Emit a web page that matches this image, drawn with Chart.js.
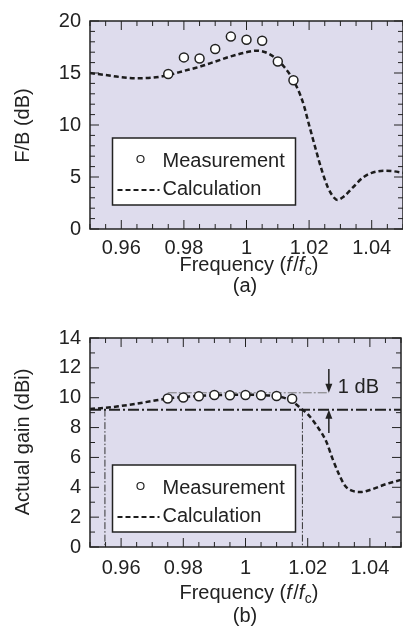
<!DOCTYPE html>
<html>
<head>
<meta charset="utf-8">
<script src="https://cdn.jsdelivr.net/npm/chart.js@4/dist/chart.umd.min.js"></script>
<style>
  html, body { margin: 0; padding: 0; background: #fff; overflow: hidden; width: 403px; height: 627px; }
  .wrap { position: absolute; left: 0; }
  canvas { display: block; }
</style>
</head>
<body>
<div class="wrap" style="top:0"><canvas id="fb" width="410" height="300"></canvas></div>
<div class="wrap" style="top:300px"><canvas id="gain" width="410" height="327"></canvas></div>
<script>
// (a) front-to-back ratio
const measFreq = [0.975, 0.98, 0.985, 0.99, 0.995, 1.0, 1.005, 1.01, 1.015];
const measFB = [14.9, 16.5, 16.4, 17.3, 18.5, 18.2, 18.1, 16.1, 14.3];

const calcFreqA = [0.95, 0.955, 0.96, 0.965, 0.97, 0.975, 0.98, 0.985, 0.99, 0.995, 1.0, 1.003, 1.006, 1.009,
  1.012, 1.015, 1.018, 1.02, 1.022, 1.024, 1.026, 1.028, 1.029, 1.031, 1.034, 1.037, 1.04, 1.044, 1.047, 1.05];
const calcFB = [15.0, 14.8, 14.6, 14.5, 14.55, 14.8, 15.2, 15.6, 16.1, 16.6, 17.0, 17.15, 17.0, 16.5,
  15.6, 14.3, 12.2, 10.0, 7.8, 5.7, 4.0, 3.0, 2.8, 3.1, 4.0, 4.9, 5.4, 5.6, 5.55, 5.4];

// (b) actual gain
const measGain = [9.95, 10.02, 10.09, 10.18, 10.16, 10.18, 10.16, 10.11, 9.93];

const calcFreqB = [0.95, 0.955, 0.96, 0.965, 0.97, 0.975, 0.98, 0.985, 0.99, 0.995, 1.0, 1.005, 1.01, 1.013,
  1.016, 1.018, 1.02, 1.023, 1.026, 1.028, 1.03, 1.032, 1.035, 1.037, 1.04, 1.045, 1.05];
const calcGain = [9.25, 9.32, 9.45, 9.6, 9.78, 9.95, 10.05, 10.12, 10.17, 10.2, 10.2, 10.18, 10.1, 9.95,
  9.6, 9.25, 8.9, 8.1, 7.05, 5.9, 4.9, 4.1, 3.72, 3.68, 3.82, 4.2, 4.5];

// 1 dB bandwidth markers
const gainLevel = 9.2;
const gainPeakLevel = 10.33;
const bandEdges = [0.9548, 1.0183];
const arrowFreq = 1.0268;
const arrowDownFrom = 11.92;
const arrowUpFrom = 7.64;

const FONT = "'Liberation Sans', Arial, Helvetica, sans-serif";
const INK = '#222';
const BG = '#dedced';

const pts = (xs, ys) => xs.map((x, i) => ({ x, y: ys[i] }));

function drawArrow(ctx, x, y0, y1) {
  const dir = y1 > y0 ? 1 : -1;
  ctx.beginPath();
  ctx.moveTo(x, y0);
  ctx.lineTo(x, y1 - dir * 8);
  ctx.stroke();
  ctx.beginPath();
  ctx.moveTo(x, y1);
  ctx.lineTo(x - 3.5, y1 - dir * 9);
  ctx.lineTo(x + 3.5, y1 - dir * 9);
  ctx.closePath();
  ctx.fill();
}

function drawFreqTitle(ctx, cx, y) {
  const norm = '20px ' + FONT, ital = 'italic 20px ' + FONT, small = '14px ' + FONT;
  const parts = [
    { t: 'Frequency (', f: norm, dy: 0, gap: 0 },
    { t: 'f', f: ital, dy: 0, gap: 1.5 },
    { t: '/', f: norm, dy: 0, gap: 0 },
    { t: 'f', f: ital, dy: 0, gap: 0.5 },
    { t: 'c', f: small, dy: 4, gap: 0 },
    { t: ')', f: norm, dy: 0, gap: 0 },
  ];
  let w = 0;
  parts.forEach(p => { ctx.font = p.f; p.w = ctx.measureText(p.t).width + p.gap; w += p.w; });
  let x = cx - w / 2;
  ctx.textAlign = 'left';
  ctx.textBaseline = 'alphabetic';
  parts.forEach(p => { ctx.font = p.f; ctx.fillText(p.t, x, y + p.dy); x += p.w; });
}

function makeDecor(cfg) {
  return {
    id: 'decor',
    beforeDraw(chart) {
      const { ctx, chartArea: a } = chart;
      ctx.save();
      ctx.fillStyle = BG;
      ctx.fillRect(a.left, a.top, a.right - a.left, a.bottom - a.top);
      ctx.restore();
    },
    beforeDatasetsDraw(chart) {
      if (!cfg.band) return;
      const { ctx, chartArea: a, scales: { x, y } } = chart;
      const yl = y.getPixelForValue(gainLevel);
      ctx.save();
      ctx.strokeStyle = '#333';
      ctx.lineWidth = 1;
      ctx.setLineDash([7, 2, 1.5, 2]);
      bandEdges.forEach(f => {
        const px = x.getPixelForValue(f);
        ctx.beginPath(); ctx.moveTo(px, yl); ctx.lineTo(px, a.bottom); ctx.stroke();
      });
      ctx.strokeStyle = '#7a7a7a';
      ctx.setLineDash([9, 2, 2, 2]);
      const yp = y.getPixelForValue(gainPeakLevel);
      ctx.beginPath();
      ctx.moveTo(x.getPixelForValue(0.975), yp);
      ctx.lineTo(x.getPixelForValue(arrowFreq), yp);
      ctx.stroke();
      ctx.strokeStyle = INK;
      ctx.lineWidth = 2;
      ctx.setLineDash([11, 3, 2, 3]);
      ctx.beginPath(); ctx.moveTo(a.left, yl); ctx.lineTo(a.right, yl); ctx.stroke();
      ctx.restore();
    },
    afterDatasetsDraw(chart) {
      const { ctx, chartArea: a, scales: { x, y } } = chart;
      ctx.save();
      // frame
      ctx.strokeStyle = INK;
      ctx.lineWidth = 1.5;
      ctx.strokeRect(a.left, a.top, a.right - a.left, a.bottom - a.top);
      // inward ticks on all four sides
      ctx.lineWidth = 1;
      ctx.beginPath();
      x.ticks.forEach(t => {
        const px = x.getPixelForValue(t.value);
        const len = t.label ? 9 : 5;
        ctx.moveTo(px, a.bottom); ctx.lineTo(px, a.bottom - len);
        ctx.moveTo(px, a.top); ctx.lineTo(px, a.top + len);
      });
      y.ticks.forEach(t => {
        const py = y.getPixelForValue(t.value);
        const len = t.label ? 9 : 5;
        ctx.moveTo(a.left, py); ctx.lineTo(a.left + len, py);
        ctx.moveTo(a.right, py); ctx.lineTo(a.right - len, py);
      });
      ctx.stroke();

      if (cfg.band) {
        const ax = x.getPixelForValue(arrowFreq);
        ctx.strokeStyle = INK; ctx.fillStyle = INK; ctx.lineWidth = 1.5;
        drawArrow(ctx, ax, y.getPixelForValue(arrowDownFrom), y.getPixelForValue(gainPeakLevel));
        drawArrow(ctx, ax, y.getPixelForValue(arrowUpFrom), y.getPixelForValue(gainLevel));
        ctx.font = '20px ' + FONT;
        ctx.textAlign = 'left';
        ctx.textBaseline = 'alphabetic';
        ctx.fillText('1 dB', ax + 9, y.getPixelForValue(gainPeakLevel));
      }

      // legend
      const L = cfg.legend;
      ctx.fillStyle = '#fff';
      ctx.fillRect(L.left, L.top, L.width, L.height);
      ctx.strokeStyle = INK;
      ctx.lineWidth = 1.5;
      ctx.strokeRect(L.left, L.top, L.width, L.height);
      const meas = chart.data.datasets[0], calc = chart.data.datasets[1];
      ctx.beginPath();
      ctx.arc(L.left + 28, L.top + 21, 3.5, 0, Math.PI * 2);
      ctx.fillStyle = '#fff'; ctx.fill();
      ctx.strokeStyle = meas.borderColor; ctx.lineWidth = 1.2; ctx.stroke();
      ctx.beginPath();
      ctx.setLineDash(calc.borderDash);
      ctx.lineWidth = 2.2;
      ctx.strokeStyle = calc.borderColor;
      ctx.moveTo(L.left + 5, L.top + 52); ctx.lineTo(L.left + 47, L.top + 52);
      ctx.stroke();
      ctx.setLineDash([]);
      ctx.fillStyle = INK;
      ctx.font = '20px ' + FONT;
      ctx.textAlign = 'left';
      ctx.textBaseline = 'alphabetic';
      ctx.fillText(meas.label, L.left + 50, L.top + 29);
      ctx.fillText(calc.label, L.left + 50, L.top + 57);
      ctx.restore();
    },
    afterDraw(chart) {
      const { ctx } = chart;
      ctx.save();
      ctx.fillStyle = INK;
      ctx.font = '20px ' + FONT;
      ctx.translate(cfg.yTitle.x, cfg.yTitle.y);
      ctx.rotate(-Math.PI / 2);
      ctx.textAlign = 'center';
      ctx.textBaseline = 'middle';
      ctx.fillText(cfg.yTitle.text, 0, 0);
      ctx.restore();
      ctx.save();
      ctx.fillStyle = INK;
      drawFreqTitle(ctx, 249, cfg.xTitleY);
      ctx.font = '20px ' + FONT;
      ctx.textAlign = 'center';
      ctx.fillText(cfg.caption, 245, cfg.captionY);
      ctx.restore();
    },
  };
}

function makeChart(id, measY, calcX, calcY, yMax, yMajor, cfg) {
  return new Chart(document.getElementById(id), {
    type: 'scatter',
    data: {
      datasets: [
        {
          label: 'Measurement',
          data: pts(measFreq, measY),
          showLine: false,
          pointRadius: 4.5,
          pointBorderWidth: 1.5,
          pointBackgroundColor: '#fff',
          borderColor: INK,
          pointBorderColor: INK,
          order: 0,
        },
        {
          label: 'Calculation',
          data: pts(calcX, calcY),
          showLine: true,
          pointRadius: 0,
          borderColor: '#1c1c1c',
          borderWidth: 2.5,
          borderDash: [5, 3],
          cubicInterpolationMode: 'monotone',
          order: 1,
        },
      ],
    },
    options: {
      responsive: false,
      animation: false,
      layout: { padding: { top: cfg.padTop, right: 6, left: 0, bottom: 0 } },
      plugins: { legend: { display: false }, tooltip: { enabled: false } },
      scales: {
        x: {
          type: 'linear',
          min: 0.95,
          max: 1.05,
          grid: { display: false, drawTicks: false },
          border: { display: false },
          afterFit: s => { s.height = cfg.xAxisHeight; },
          ticks: {
            stepSize: 0.005,
            autoSkip: false,
            maxRotation: 0,
            padding: cfg.xPad,
            color: INK,
            font: { family: FONT, size: 20 },
            callback: v => (Math.round(v * 1000) % 20 === 0 ? String(+v.toFixed(2)) : ''),
          },
        },
        y: {
          min: 0,
          max: yMax,
          grid: { display: false, drawTicks: false },
          border: { display: false },
          afterFit: s => { s.width = 90; },
          ticks: {
            stepSize: 1,
            autoSkip: false,
            padding: 9,
            color: INK,
            font: { family: FONT, size: 20 },
            callback: v => (Math.round(v) % yMajor === 0 ? String(v) : ''),
          },
        },
      },
    },
    plugins: [makeDecor(cfg)],
  });
}

makeChart('fb', measFB, calcFreqA, calcFB, 20, 5, {
  padTop: 21, xAxisHeight: 71, xPad: 7,
  legend: { left: 112.5, top: 138, width: 183, height: 67 },
  yTitle: { text: 'F/B (dB)', x: 23, y: 125.5 },
  xTitleY: 271, caption: '(a)', captionY: 292,
});

makeChart('gain', measGain, calcFreqB, calcGain, 14, 2, {
  padTop: 38, xAxisHeight: 80, xPad: 9, band: true,
  legend: { left: 112.5, top: 165, width: 183, height: 67 },
  yTitle: { text: 'Actual gain (dBi)', x: 23, y: 142 },
  xTitleY: 299, caption: '(b)', captionY: 322,
});
</script>
</body>
</html>
